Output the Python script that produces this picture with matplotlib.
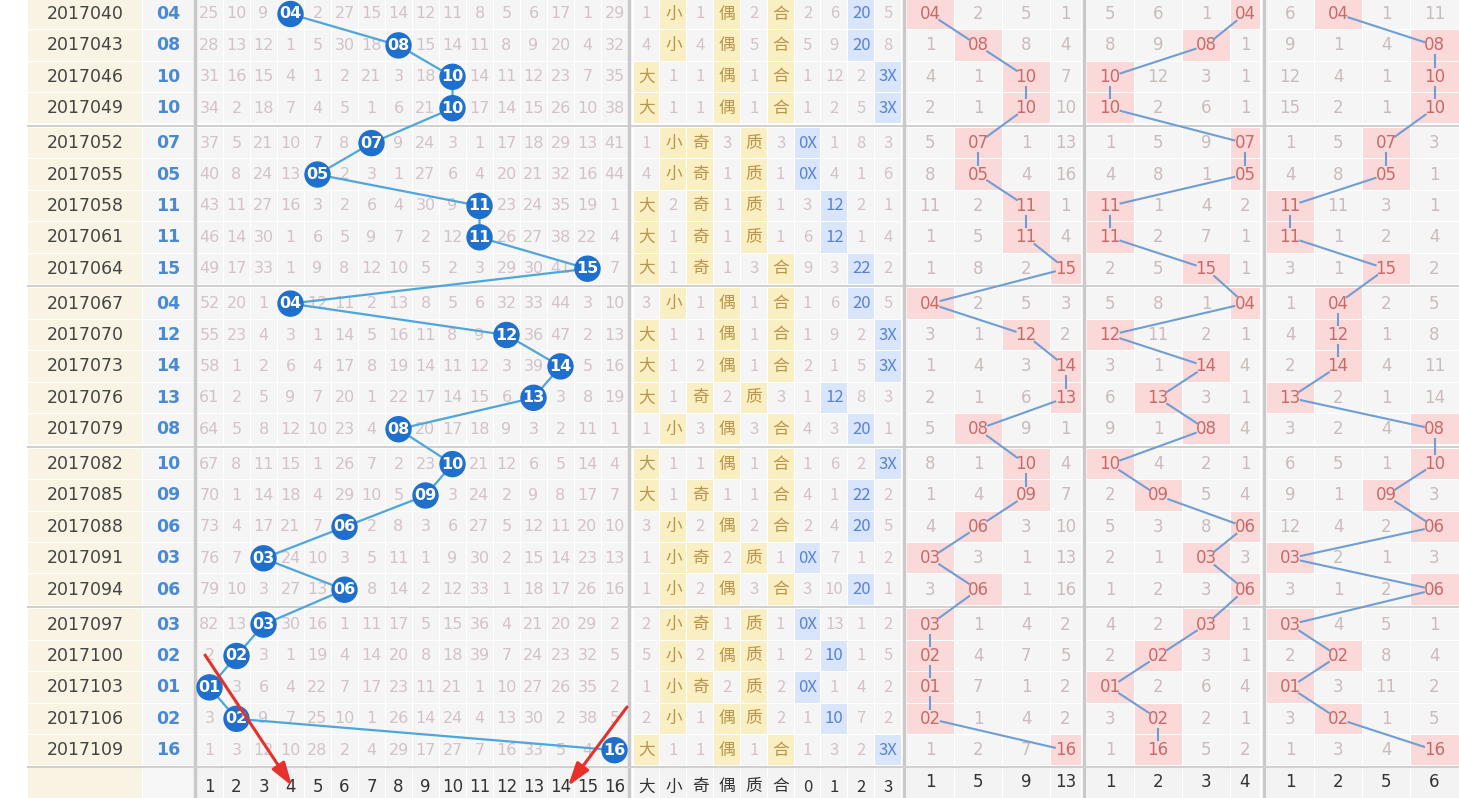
import matplotlib
matplotlib.use("Agg")
import matplotlib.pyplot as plt
from matplotlib.patches import Rectangle, Circle
import numpy as np

plt.rcParams['font.family'] = ['DejaVu Sans', 'Noto Sans CJK SC']

periods = ["2017040","2017043","2017046","2017049","2017052","2017055","2017058","2017061",
           "2017064","2017067","2017070","2017073","2017076","2017079","2017082","2017085",
           "2017088","2017091","2017094","2017097","2017100","2017103","2017106","2017109"]
numbers = [4,8,10,10,7,5,11,11,15,4,12,14,13,8,10,9,6,3,6,3,2,1,2,16]
omissions = [
 [25,10,9,0,2,27,15,14,12,11,8,5,6,17,1,29],
 [28,13,12,1,5,30,18,0,15,14,11,8,9,20,4,32],
 [31,16,15,4,1,2,21,3,18,0,14,11,12,23,7,35],
 [34,2,18,7,4,5,1,6,21,0,17,14,15,26,10,38],
 [37,5,21,10,7,8,0,9,24,3,1,17,18,29,13,41],
 [40,8,24,13,0,2,3,1,27,6,4,20,21,32,16,44],
 [43,11,27,16,3,2,6,4,30,9,0,23,24,35,19,1],
 [46,14,30,1,6,5,9,7,2,12,0,26,27,38,22,4],
 [49,17,33,1,9,8,12,10,5,2,3,29,30,41,0,7],
 [52,20,1,0,12,11,2,13,8,5,6,32,33,44,3,10],
 [55,23,4,3,1,14,5,16,11,8,9,0,36,47,2,13],
 [58,1,2,6,4,17,8,19,14,11,12,3,39,0,5,16],
 [61,2,5,9,7,20,1,22,17,14,15,6,0,3,8,19],
 [64,5,8,12,10,23,4,0,20,17,18,9,3,2,11,1],
 [67,8,11,15,1,26,7,2,23,0,21,12,6,5,14,4],
 [70,1,14,18,4,29,10,5,0,3,24,2,9,8,17,7],
 [73,4,17,21,7,0,2,8,3,6,27,5,12,11,20,10],
 [76,7,0,24,10,3,5,11,1,9,30,2,15,14,23,13],
 [79,10,3,27,13,0,8,14,2,12,33,1,18,17,26,16],
 [82,13,0,30,16,1,11,17,5,15,36,4,21,20,29,2],
 [2,0,3,1,19,4,14,20,8,18,39,7,24,23,32,5],
 [0,3,6,4,22,7,17,23,11,21,1,10,27,26,35,2],
 [3,0,9,7,25,10,1,26,14,24,4,13,30,2,38,5],
 [1,3,12,10,28,2,4,29,17,27,7,16,33,5,4,0]]
attrs = [
 "1 小 1 偶 2 合 2 6 20 5","4 小 4 偶 5 合 5 9 20 8","大 1 1 偶 1 合 1 12 2 3X","大 1 1 偶 1 合 1 2 5 3X",
 "1 小 奇 3 质 3 0X 1 8 3","4 小 奇 1 质 1 0X 4 1 6","大 2 奇 1 质 1 3 12 2 1","大 1 奇 1 质 1 6 12 1 4",
 "大 1 奇 1 3 合 9 3 22 2","3 小 1 偶 1 合 1 6 20 5","大 1 1 偶 1 合 1 9 2 3X","大 1 2 偶 1 合 2 1 5 3X",
 "大 1 奇 2 质 3 1 12 8 3","1 小 3 偶 3 合 4 3 20 1","大 1 1 偶 1 合 1 6 2 3X","大 1 奇 1 1 合 4 1 22 2",
 "3 小 2 偶 2 合 2 4 20 5","1 小 奇 2 质 1 0X 7 1 2","1 小 2 偶 3 合 3 10 20 1","2 小 奇 1 质 1 0X 13 1 2",
 "5 小 2 偶 质 1 2 10 1 5","1 小 奇 2 质 2 0X 1 4 2","2 小 1 偶 质 2 1 10 7 2","大 1 1 偶 1 合 1 3 2 3X"]
mod_hit = [2,2,3,3,0,0,1,1,2,2,3,3,1,2,3,2,2,0,2,0,1,0,1,3]
grpA = ["04 2 5 1","1 08 8 4","4 1 10 7","2 1 10 10","5 07 1 13","8 05 4 16","11 2 11 1","1 5 11 4",
        "1 8 2 15","04 2 5 3","3 1 12 2","1 4 3 14","2 1 6 13","5 08 9 1","8 1 10 4","1 4 09 7",
        "4 06 3 10","03 3 1 13","3 06 1 16","03 1 4 2","02 4 7 5","01 7 1 2","02 1 4 2","1 2 7 16"]
hitA = [0,1,2,2,1,1,2,2,3,0,2,3,3,1,2,2,1,0,1,0,0,0,0,3]
grpB = ["5 6 1 04","8 9 08 1","10 12 3 1","10 2 6 1","1 5 9 07","4 8 1 05","11 1 4 2","11 2 7 1",
        "2 5 15 1","5 8 1 04","12 11 2 1","3 1 14 4","6 13 3 1","9 1 08 4","10 4 2 1","2 09 5 4",
        "5 3 8 06","2 1 03 3","1 2 3 06","4 2 03 1","2 02 3 1","01 2 6 4","3 02 2 1","1 16 5 2"]
hitB = [3,2,0,0,3,3,0,0,2,3,0,2,1,2,0,1,3,2,3,2,1,0,1,1]
grpC = ["6 04 1 11","9 1 4 08","12 4 1 10","15 2 1 10","1 5 07 3","4 8 05 1","11 11 3 1","11 1 2 4",
        "3 1 15 2","1 04 2 5","4 12 1 8","2 14 4 11","13 2 1 14","3 2 4 08","6 5 1 10","9 1 09 3",
        "12 4 2 06","03 2 1 3","3 1 2 06","03 4 5 1","2 02 8 4","01 3 11 2","3 02 1 5","1 3 4 16"]
hitC = [1,3,3,3,2,2,0,0,2,1,1,1,0,3,3,2,3,0,3,0,1,0,1,3]
foot_num = [str(i) for i in range(1, 17)]
foot_attr = ["大","小","奇","偶","质","合","0","1","2","3"]
foot_A = [("1","4"),("5","8"),("9","12"),("13","16")]
foot_B = [("1","10"),("2","9"),("3","8"),("4","5")]
foot_C = [("1","3"),("2","4"),("5","7"),("6","8")]

W, H = 1459, 798
fig = plt.figure(figsize=(W/100, H/100), dpi=100)
ax = fig.add_axes([0, 0, 1, 1])
ax.set_xlim(0, W); ax.set_ylim(H, 0); ax.axis('off')

CJK = ['Noto Sans CJK SC', 'DejaVu Sans']
RH = 31.4
def yc(i):
    return 14 + i*RH + ((i+1)//5)*3.5

num_x0, num_w = 196, 27.0
attr_x0, attr_w = 633, 26.85
A_edges = [906, 954, 1002, 1050, 1081]
B_edges = [1086, 1134, 1182, 1230, 1260]
C_edges = [1266, 1314, 1362, 1410, 1459]

grey_txt = '#d3c3c7'
pale = '#f5f5f5'
n = len(periods)
for i in range(n):
    y = yc(i); top = y - RH/2 + 0.5; h = RH - 1
    ax.add_patch(Rectangle((28, top), 114, h, color='#f9f3e3', lw=0))
    ax.text(85, y, periods[i], ha='center', va='center', fontsize=12.5, color='#444444')
    ax.add_patch(Rectangle((143, top), 51, h, color=pale, lw=0))
    ax.text(168, y, "%02d" % numbers[i], ha='center', va='center', fontsize=12.5, color='#4a8ad4', fontweight='bold')
    for c in range(16):
        x = num_x0 + c*num_w
        ax.add_patch(Rectangle((x+0.5, top), num_w-1, h, color=pale, lw=0))
        if omissions[i][c] != 0:
            ax.text(x+num_w/2, y, str(omissions[i][c]), ha='center', va='center', fontsize=11.5, color=grey_txt)
    cells = attrs[i].split()
    for c, t in enumerate(cells):
        x = attr_x0 + c*attr_w
        col = pale; tc = grey_txt
        if c < 6 and not t.isdigit():
            col = '#faeec3'; tc = '#b8954a'
        if c >= 6 and c-6 == mod_hit[i]:
            col = '#d8e5fb'; tc = '#5b82d4'
        ax.add_patch(Rectangle((x+0.5, top), attr_w-1, h, color=col, lw=0))
        ax.text(x+attr_w/2, y, t, ha='center', va='center', fontsize=12, color=tc, family=CJK)
    for edges, grp, hit in ((A_edges, grpA, hitA), (B_edges, grpB, hitB), (C_edges, grpC, hitC)):
        vals = grp[i].split()
        for c in range(4):
            x0, x1 = edges[c], edges[c+1]
            col = pale; tc = '#cbbcbc'
            if c == hit[i]:
                col = '#fbd9d9'; tc = '#c76a6a'
            ax.add_patch(Rectangle((x0+0.5, top), x1-x0-1, h, color=col, lw=0))
            ax.text((x0+x1)/2, y, vals[c], ha='center', va='center', fontsize=12, color=tc)

for i in range(n):
    if (i+1) % 5 == 4 and i < n-1:
        ys = (yc(i) + yc(i+1))/2
        ax.plot([28, W], [ys, ys], color='#d0d0d0', lw=1.5)
for xs in [195, 629, 904, 1084, 1264]:
    ax.plot([xs, xs], [0, 798], color='#c9c9c9', lw=2.5)

bx = [num_x0 + (v-1+0.5)*num_w for v in numbers]
by = [yc(i) for i in range(n)]
ax.plot(bx, by, color='#4ea6dc', lw=1.6, zorder=3)
for x, y, v in zip(bx, by, numbers):
    ax.add_patch(Circle((x, y), 12.5, color='#1f6fcf', zorder=4))
    ax.text(x, y, "%02d" % v, ha='center', va='center', fontsize=11.5, color='white', fontweight='bold', zorder=5)

def trimmed_lines(edges, hit):
    xs = [(edges[h]+edges[h+1])/2 for h in hit]
    for i in range(n-1):
        x0, y0, x1, y1 = xs[i], by[i], xs[i+1], by[i+1]
        d = np.hypot(x1-x0, y1-y0)
        tr = 11 if abs(x1-x0) > 1 else 10
        ux, uy = (x1-x0)/d, (y1-y0)/d
        ax.plot([x0+ux*tr, x1-ux*tr], [y0+uy*tr, y1-uy*tr], color='#6f9ed6', lw=1.5, zorder=3)
trimmed_lines(A_edges, hitA)
trimmed_lines(B_edges, hitB)
trimmed_lines(C_edges, hitC)

ft = 767
ax.plot([28, W], [ft, ft], color='#d0d0d0', lw=1.5)
ax.add_patch(Rectangle((28, ft+1), 114, 40, color='#f9f3e3', lw=0))
ax.add_patch(Rectangle((143, ft+1), 51, 40, color='#f7f7f7', lw=0))
fy = 787
for c in range(16):
    x = num_x0 + c*num_w
    ax.add_patch(Rectangle((x+0.5, ft+1), num_w-1, 40, color='#f3f3f3', lw=0))
    ax.text(x+num_w/2, fy, foot_num[c], ha='center', va='center', fontsize=12, color='#333333')
for c in range(10):
    x = attr_x0 + c*attr_w
    ax.add_patch(Rectangle((x+0.5, ft+1), attr_w-1, 40, color='#f3f3f3', lw=0))
    ax.text(x+attr_w/2, fy, foot_attr[c], ha='center', va='center', fontsize=12, color='#333333', family=CJK)
for edges, labs in ((A_edges, foot_A), (B_edges, foot_B), (C_edges, foot_C)):
    for c in range(4):
        x0, x1 = edges[c], edges[c+1]
        ax.add_patch(Rectangle((x0+0.5, ft+1), x1-x0-1, 40, color='#f3f3f3', lw=0))
        ax.text((x0+x1)/2, 782, labs[c][0], ha='center', va='center', fontsize=12, color='#333333')
        ax.text((x0+x1)/2, 808, labs[c][1], ha='center', va='center', fontsize=12, color='#333333')

for (sx, sy), (ex, ey) in (((205, 655), (292, 786)), ((627, 707), (568, 786))):
    ax.annotate('', xy=(ex, ey), xytext=(sx, sy),
                arrowprops=dict(arrowstyle='-|>,head_width=0.45,head_length=1.4', color='#e8302a', lw=2.2,
                                shrinkA=0, shrinkB=0), zorder=6)

fig.savefig('out.png', dpi=100)
